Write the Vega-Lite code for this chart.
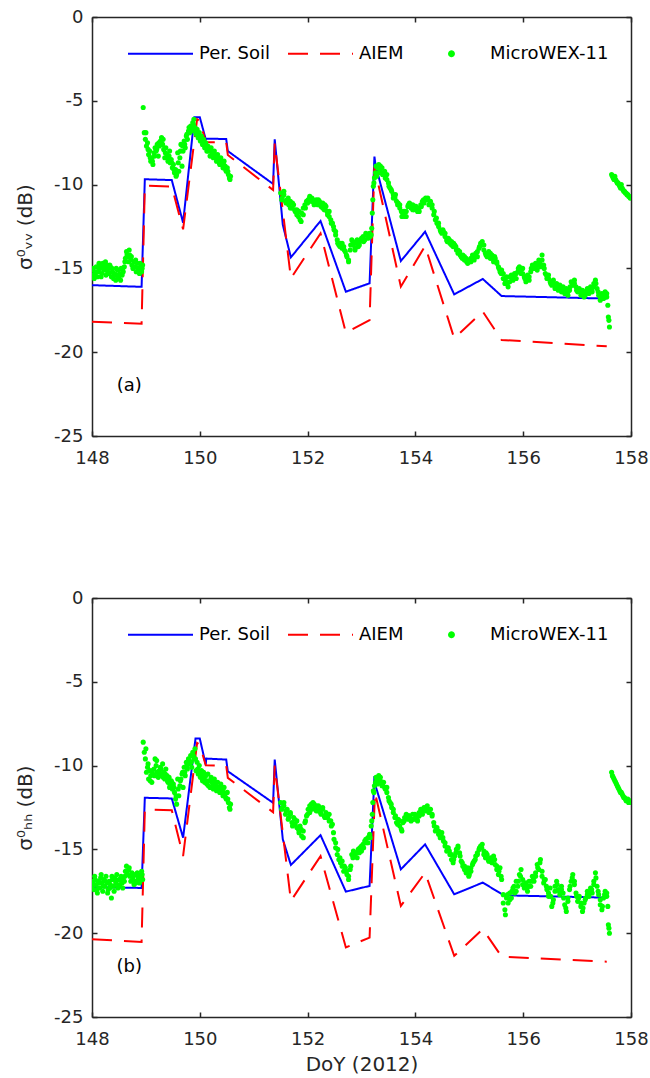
{
"$schema": "https://vega.github.io/schema/vega-lite/v6.json",
"background": "white",
"padding": {"left": 15, "top": 8, "right": 0, "bottom": 0},
"bounds": "flush",
"spacing": 162,
"config": {
  "view": {"stroke": null},
  "font": "DejaVu Sans",
  "axis": {"labelFont": "DejaVu Sans", "labelFontSize": 18, "labelColor": "#262626", "domainColor": "#262626", "domainWidth": 1.5, "tickColor": "#262626", "tickWidth": 1.5, "tickSize": -5, "grid": false, "titleFont": "DejaVu Sans", "titleFontWeight": "normal", "titleColor": "#262626", "titleFontSize": 20}
},
"datasets": {
"model": [
{"s":"Per. Soil","p":"VV","d":148.00,"v":-16.00},
{"s":"Per. Soil","p":"VV","d":148.92,"v":-16.10},
{"s":"Per. Soil","p":"VV","d":148.98,"v":-9.68},
{"s":"Per. Soil","p":"VV","d":149.48,"v":-9.73},
{"s":"Per. Soil","p":"VV","d":149.69,"v":-12.27},
{"s":"Per. Soil","p":"VV","d":149.90,"v":-5.98},
{"s":"Per. Soil","p":"VV","d":150.00,"v":-5.98},
{"s":"Per. Soil","p":"VV","d":150.11,"v":-7.30},
{"s":"Per. Soil","p":"VV","d":150.12,"v":-7.26},
{"s":"Per. Soil","p":"VV","d":150.49,"v":-7.28},
{"s":"Per. Soil","p":"VV","d":150.52,"v":-8.00},
{"s":"Per. Soil","p":"VV","d":151.36,"v":-9.96},
{"s":"Per. Soil","p":"VV","d":151.39,"v":-7.30},
{"s":"Per. Soil","p":"VV","d":151.54,"v":-12.40},
{"s":"Per. Soil","p":"VV","d":151.69,"v":-14.34},
{"s":"Per. Soil","p":"VV","d":152.24,"v":-12.17},
{"s":"Per. Soil","p":"VV","d":152.71,"v":-16.39},
{"s":"Per. Soil","p":"VV","d":153.15,"v":-15.89},
{"s":"Per. Soil","p":"VV","d":153.24,"v":-8.33},
{"s":"Per. Soil","p":"VV","d":153.26,"v":-8.83},
{"s":"Per. Soil","p":"VV","d":153.73,"v":-14.56},
{"s":"Per. Soil","p":"VV","d":154.18,"v":-12.81},
{"s":"Per. Soil","p":"VV","d":154.72,"v":-16.55},
{"s":"Per. Soil","p":"VV","d":155.25,"v":-15.63},
{"s":"Per. Soil","p":"VV","d":155.60,"v":-16.65},
{"s":"Per. Soil","p":"VV","d":157.55,"v":-16.80},
{"s":"AIEM","p":"VV","d":148.00,"v":-18.18},
{"s":"AIEM","p":"VV","d":148.92,"v":-18.30},
{"s":"AIEM","p":"VV","d":148.98,"v":-10.06},
{"s":"AIEM","p":"VV","d":149.48,"v":-10.12},
{"s":"AIEM","p":"VV","d":149.69,"v":-12.67},
{"s":"AIEM","p":"VV","d":149.95,"v":-6.10},
{"s":"AIEM","p":"VV","d":150.00,"v":-6.20},
{"s":"AIEM","p":"VV","d":150.11,"v":-7.44},
{"s":"AIEM","p":"VV","d":150.12,"v":-7.47},
{"s":"AIEM","p":"VV","d":150.49,"v":-7.47},
{"s":"AIEM","p":"VV","d":150.52,"v":-8.23},
{"s":"AIEM","p":"VV","d":151.36,"v":-10.32},
{"s":"AIEM","p":"VV","d":151.39,"v":-7.54},
{"s":"AIEM","p":"VV","d":151.69,"v":-15.59},
{"s":"AIEM","p":"VV","d":152.24,"v":-12.91},
{"s":"AIEM","p":"VV","d":152.71,"v":-18.84},
{"s":"AIEM","p":"VV","d":153.15,"v":-18.08},
{"s":"AIEM","p":"VV","d":153.24,"v":-8.93},
{"s":"AIEM","p":"VV","d":153.73,"v":-16.09},
{"s":"AIEM","p":"VV","d":154.18,"v":-13.66},
{"s":"AIEM","p":"VV","d":154.72,"v":-19.17},
{"s":"AIEM","p":"VV","d":155.25,"v":-17.58},
{"s":"AIEM","p":"VV","d":155.60,"v":-19.27},
{"s":"AIEM","p":"VV","d":157.55,"v":-19.65},
{"s":"Per. Soil","p":"HH","d":148.00,"v":-17.25},
{"s":"Per. Soil","p":"HH","d":148.92,"v":-17.30},
{"s":"Per. Soil","p":"HH","d":148.98,"v":-11.92},
{"s":"Per. Soil","p":"HH","d":149.48,"v":-11.96},
{"s":"Per. Soil","p":"HH","d":149.69,"v":-14.30},
{"s":"Per. Soil","p":"HH","d":149.92,"v":-8.39},
{"s":"Per. Soil","p":"HH","d":150.00,"v":-8.39},
{"s":"Per. Soil","p":"HH","d":150.11,"v":-9.94},
{"s":"Per. Soil","p":"HH","d":150.12,"v":-9.58},
{"s":"Per. Soil","p":"HH","d":150.49,"v":-9.64},
{"s":"Per. Soil","p":"HH","d":150.52,"v":-10.34},
{"s":"Per. Soil","p":"HH","d":151.36,"v":-12.22},
{"s":"Per. Soil","p":"HH","d":151.39,"v":-9.64},
{"s":"Per. Soil","p":"HH","d":151.54,"v":-14.40},
{"s":"Per. Soil","p":"HH","d":151.69,"v":-15.93},
{"s":"Per. Soil","p":"HH","d":152.24,"v":-14.15},
{"s":"Per. Soil","p":"HH","d":152.71,"v":-17.52},
{"s":"Per. Soil","p":"HH","d":153.15,"v":-17.18},
{"s":"Per. Soil","p":"HH","d":153.24,"v":-10.63},
{"s":"Per. Soil","p":"HH","d":153.26,"v":-11.20},
{"s":"Per. Soil","p":"HH","d":153.73,"v":-16.19},
{"s":"Per. Soil","p":"HH","d":154.18,"v":-14.70},
{"s":"Per. Soil","p":"HH","d":154.72,"v":-17.68},
{"s":"Per. Soil","p":"HH","d":155.25,"v":-16.98},
{"s":"Per. Soil","p":"HH","d":155.64,"v":-17.74},
{"s":"Per. Soil","p":"HH","d":157.55,"v":-17.88},
{"s":"AIEM","p":"HH","d":148.00,"v":-20.36},
{"s":"AIEM","p":"HH","d":148.92,"v":-20.52},
{"s":"AIEM","p":"HH","d":148.98,"v":-12.62},
{"s":"AIEM","p":"HH","d":149.48,"v":-12.66},
{"s":"AIEM","p":"HH","d":149.69,"v":-15.40},
{"s":"AIEM","p":"HH","d":149.95,"v":-8.65},
{"s":"AIEM","p":"HH","d":150.00,"v":-8.75},
{"s":"AIEM","p":"HH","d":150.11,"v":-9.98},
{"s":"AIEM","p":"HH","d":150.49,"v":-10.00},
{"s":"AIEM","p":"HH","d":150.52,"v":-10.73},
{"s":"AIEM","p":"HH","d":151.36,"v":-12.78},
{"s":"AIEM","p":"HH","d":151.39,"v":-10.00},
{"s":"AIEM","p":"HH","d":151.69,"v":-18.07},
{"s":"AIEM","p":"HH","d":152.24,"v":-15.40},
{"s":"AIEM","p":"HH","d":152.71,"v":-20.85},
{"s":"AIEM","p":"HH","d":153.15,"v":-20.26},
{"s":"AIEM","p":"HH","d":153.25,"v":-11.60},
{"s":"AIEM","p":"HH","d":153.73,"v":-18.37},
{"s":"AIEM","p":"HH","d":154.18,"v":-16.39},
{"s":"AIEM","p":"HH","d":154.72,"v":-21.35},
{"s":"AIEM","p":"HH","d":155.25,"v":-19.76},
{"s":"AIEM","p":"HH","d":155.60,"v":-21.40},
{"s":"AIEM","p":"HH","d":157.55,"v":-21.70}
],
"obs": [
{"d":148.00,"vv":-15.4,"hh":-17.2},{"d":148.02,"vv":-15.1,"hh":-16.9},{"d":148.04,"vv":-15.6,"hh":-17.4},{"d":148.06,"vv":-15.3,"hh":-16.8},{"d":148.08,"vv":-14.9,"hh":-17.1},{"d":148.10,"vv":-15.5,"hh":-17.6},{"d":148.12,"vv":-15.2,"hh":-16.9},{"d":148.14,"vv":-15.0,"hh":-17.3},{"d":148.16,"vv":-14.8,"hh":-16.7},{"d":148.18,"vv":-15.3,"hh":-17.0},
{"d":148.20,"vv":-14.7,"hh":-17.5},{"d":148.22,"vv":-15.1,"hh":-16.8},{"d":148.24,"vv":-14.9,"hh":-17.2},{"d":148.26,"vv":-15.4,"hh":-16.6},{"d":148.28,"vv":-14.8,"hh":-17.0},{"d":148.30,"vv":-15.0,"hh":-17.4},{"d":148.32,"vv":-15.3,"hh":-16.9},{"d":148.34,"vv":-14.9,"hh":-17.1},{"d":148.36,"vv":-15.5,"hh":-17.9},{"d":148.38,"vv":-15.2,"hh":-16.8},
{"d":148.40,"vv":-15.6,"hh":-17.2},{"d":148.42,"vv":-15.3,"hh":-16.7},{"d":148.44,"vv":-15.7,"hh":-17.0},{"d":148.46,"vv":-15.4,"hh":-16.5},{"d":148.48,"vv":-15.1,"hh":-17.3},{"d":148.50,"vv":-15.6,"hh":-16.8},{"d":148.52,"vv":-15.3,"hh":-17.1},{"d":148.54,"vv":-15.0,"hh":-16.6},{"d":148.56,"vv":-15.4,"hh":-17.0},{"d":148.58,"vv":-15.2,"hh":-16.7},
{"d":148.60,"vv":-14.9,"hh":-16.9},{"d":148.62,"vv":-14.4,"hh":-16.3},{"d":148.64,"vv":-14.0,"hh":-16.0},{"d":148.66,"vv":-14.3,"hh":-16.5},{"d":148.68,"vv":-14.6,"hh":-16.2},{"d":148.70,"vv":-14.2,"hh":-16.6},{"d":148.72,"vv":-14.5,"hh":-16.9},{"d":148.74,"vv":-14.8,"hh":-16.4},{"d":148.76,"vv":-15.0,"hh":-16.8},{"d":148.78,"vv":-14.6,"hh":-17.1},
{"d":148.80,"vv":-14.9,"hh":-16.5},{"d":148.82,"vv":-15.2,"hh":-16.9},{"d":148.84,"vv":-14.7,"hh":-16.4},{"d":148.86,"vv":-15.1,"hh":-16.7},{"d":148.88,"vv":-15.3,"hh":-17.0},{"d":148.90,"vv":-14.9,"hh":-16.6},{"d":148.92,"vv":-15.2,"hh":-16.3},{"d":148.94,"vv":-14.8,"hh":-16.8},
{"d":148.01,"vv":-15.0,"hh":-17.0},{"d":148.05,"vv":-15.4,"hh":-16.6},{"d":148.09,"vv":-15.2,"hh":-17.4},{"d":148.13,"vv":-14.7,"hh":-17.0},{"d":148.17,"vv":-15.5,"hh":-16.5},{"d":148.21,"vv":-15.0,"hh":-17.2},{"d":148.25,"vv":-14.6,"hh":-16.9},{"d":148.29,"vv":-15.2,"hh":-17.6},{"d":148.33,"vv":-14.8,"hh":-17.3},{"d":148.37,"vv":-15.0,"hh":-16.6},
{"d":148.41,"vv":-15.4,"hh":-17.5},{"d":148.45,"vv":-15.0,"hh":-16.9},{"d":148.49,"vv":-15.5,"hh":-17.2},{"d":148.53,"vv":-15.7,"hh":-16.8},{"d":148.57,"vv":-15.0,"hh":-17.3},{"d":148.61,"vv":-14.6,"hh":-16.6},{"d":148.65,"vv":-14.2,"hh":-16.4},{"d":148.69,"vv":-13.9,"hh":-16.1},{"d":148.73,"vv":-14.3,"hh":-16.6},{"d":148.77,"vv":-14.9,"hh":-16.6},
{"d":148.81,"vv":-14.5,"hh":-17.0},{"d":148.85,"vv":-15.0,"hh":-16.5},{"d":148.89,"vv":-14.7,"hh":-16.9},{"d":148.93,"vv":-15.0,"hh":-16.5},
{"d":148.95,"vv":-5.4,"hh":-8.6},{"d":148.97,"vv":-6.9,"hh":-9.2},{"d":148.99,"vv":-7.3,"hh":-9.6},{"d":149.01,"vv":-7.7,"hh":-10.4},{"d":149.03,"vv":-7.5,"hh":-10.1},{"d":149.05,"vv":-8.2,"hh":-10.8},{"d":149.07,"vv":-8.0,"hh":-10.3},{"d":149.09,"vv":-8.6,"hh":-10.6},{"d":149.11,"vv":-8.4,"hh":-11.0},{"d":149.13,"vv":-8.8,"hh":-10.5},
{"d":149.15,"vv":-8.1,"hh":-10.2},{"d":149.17,"vv":-7.8,"hh":-9.6},{"d":149.19,"vv":-8.0,"hh":-10.0},{"d":149.21,"vv":-7.6,"hh":-10.4},{"d":149.23,"vv":-8.3,"hh":-10.7},{"d":149.25,"vv":-7.7,"hh":-10.3},{"d":149.27,"vv":-7.4,"hh":-10.1},{"d":149.29,"vv":-7.2,"hh":-10.5},{"d":149.31,"vv":-7.6,"hh":-9.9},{"d":149.33,"vv":-7.9,"hh":-10.4},
{"d":149.35,"vv":-8.4,"hh":-10.8},{"d":149.37,"vv":-7.8,"hh":-10.2},{"d":149.39,"vv":-8.2,"hh":-10.6},{"d":149.41,"vv":-8.6,"hh":-11.0},{"d":149.43,"vv":-8.3,"hh":-10.7},{"d":149.45,"vv":-8.7,"hh":-11.2},{"d":149.47,"vv":-8.5,"hh":-10.9},{"d":149.49,"vv":-9.0,"hh":-11.4},{"d":149.51,"vv":-8.8,"hh":-11.1},{"d":149.53,"vv":-9.3,"hh":-11.6},
{"d":149.55,"vv":-9.1,"hh":-12.0},{"d":149.57,"vv":-9.4,"hh":-12.3},{"d":149.59,"vv":-8.1,"hh":-10.8},{"d":149.61,"vv":-9.2,"hh":-11.8},{"d":149.63,"vv":-8.4,"hh":-11.2},{"d":149.65,"vv":-7.6,"hh":-10.8},{"d":149.67,"vv":-8.9,"hh":-10.5},{"d":149.69,"vv":-8.0,"hh":-11.3},{"d":149.71,"vv":-7.4,"hh":-10.1},{"d":149.73,"vv":-7.8,"hh":-10.6},
{"d":149.75,"vv":-7.1,"hh":-9.8},{"d":149.77,"vv":-7.3,"hh":-10.2},{"d":149.79,"vv":-6.8,"hh":-9.6},{"d":149.81,"vv":-6.9,"hh":-9.9},{"d":149.83,"vv":-6.5,"hh":-9.4},{"d":149.85,"vv":-6.8,"hh":-10.1},{"d":149.87,"vv":-6.3,"hh":-9.2},{"d":149.89,"vv":-6.1,"hh":-9.6},{"d":149.91,"vv":-6.6,"hh":-9.0},{"d":149.93,"vv":-7.0,"hh":-10.3},
{"d":149.95,"vv":-6.7,"hh":-9.8},{"d":149.97,"vv":-7.2,"hh":-10.5},{"d":149.99,"vv":-6.9,"hh":-10.0},{"d":150.01,"vv":-7.4,"hh":-10.7},{"d":150.03,"vv":-7.1,"hh":-10.3},{"d":150.05,"vv":-7.6,"hh":-10.9},{"d":150.07,"vv":-7.3,"hh":-10.4},{"d":150.09,"vv":-7.8,"hh":-11.0},{"d":150.11,"vv":-7.5,"hh":-10.6},{"d":150.13,"vv":-8.0,"hh":-11.1},
{"d":150.15,"vv":-7.7,"hh":-10.5},{"d":150.17,"vv":-7.9,"hh":-10.9},{"d":150.19,"vv":-8.3,"hh":-11.3},{"d":150.21,"vv":-7.8,"hh":-10.7},{"d":150.23,"vv":-8.1,"hh":-11.0},{"d":150.25,"vv":-8.4,"hh":-11.4},{"d":150.27,"vv":-8.0,"hh":-10.8},{"d":150.29,"vv":-8.3,"hh":-11.2},{"d":150.31,"vv":-8.6,"hh":-11.5},{"d":150.33,"vv":-8.2,"hh":-11.0},
{"d":150.35,"vv":-8.5,"hh":-11.3},{"d":150.37,"vv":-8.8,"hh":-11.6},{"d":150.39,"vv":-8.4,"hh":-11.1},{"d":150.41,"vv":-8.7,"hh":-11.5},{"d":150.43,"vv":-9.0,"hh":-11.8},{"d":150.45,"vv":-8.6,"hh":-11.3},{"d":150.47,"vv":-8.9,"hh":-11.7},{"d":150.49,"vv":-9.2,"hh":-12.0},{"d":150.51,"vv":-9.0,"hh":-11.6},{"d":150.53,"vv":-9.4,"hh":-12.2},
{"d":150.55,"vv":-9.6,"hh":-12.5},{"d":150.57,"vv":-9.5,"hh":-12.3},
{"d":149.00,"vv":-6.9,"hh":-9.0},{"d":149.04,"vv":-7.9,"hh":-9.9},{"d":149.08,"vv":-8.4,"hh":-10.9},{"d":149.12,"vv":-8.6,"hh":-10.3},{"d":149.16,"vv":-8.3,"hh":-10.6},{"d":149.20,"vv":-7.9,"hh":-9.7},{"d":149.24,"vv":-7.5,"hh":-10.6},{"d":149.28,"vv":-7.5,"hh":-10.2},{"d":149.32,"vv":-7.3,"hh":-10.7},{"d":149.36,"vv":-8.1,"hh":-10.5},
{"d":149.40,"vv":-8.4,"hh":-10.9},{"d":149.44,"vv":-8.0,"hh":-11.3},{"d":149.48,"vv":-8.7,"hh":-11.0},{"d":149.52,"vv":-9.1,"hh":-11.3},{"d":149.56,"vv":-9.5,"hh":-11.8},{"d":149.60,"vv":-8.7,"hh":-11.4},{"d":149.64,"vv":-8.0,"hh":-10.9},{"d":149.68,"vv":-7.7,"hh":-10.4},{"d":149.72,"vv":-7.6,"hh":-10.4},{"d":149.76,"vv":-7.0,"hh":-10.0},
{"d":149.80,"vv":-6.6,"hh":-9.7},{"d":149.84,"vv":-6.7,"hh":-9.8},{"d":149.88,"vv":-6.4,"hh":-9.4},{"d":149.92,"vv":-6.8,"hh":-9.6},{"d":149.96,"vv":-7.0,"hh":-10.2},{"d":150.00,"vv":-7.2,"hh":-10.4},{"d":150.04,"vv":-7.3,"hh":-10.6},{"d":150.08,"vv":-7.6,"hh":-10.8},{"d":150.12,"vv":-7.7,"hh":-10.9},{"d":150.16,"vv":-8.0,"hh":-11.2},
{"d":150.20,"vv":-8.0,"hh":-10.9},{"d":150.24,"vv":-8.3,"hh":-11.2},{"d":150.28,"vv":-8.2,"hh":-11.0},{"d":150.32,"vv":-8.4,"hh":-11.3},{"d":150.36,"vv":-8.7,"hh":-11.4},{"d":150.40,"vv":-8.6,"hh":-11.3},{"d":150.44,"vv":-8.8,"hh":-11.6},{"d":150.48,"vv":-9.1,"hh":-11.9},{"d":150.52,"vv":-9.2,"hh":-12.0},{"d":150.56,"vv":-9.7,"hh":-12.6},
{"d":151.50,"vv":-10.5,"hh":-12.2},{"d":151.53,"vv":-10.8,"hh":-12.5},{"d":151.56,"vv":-10.6,"hh":-12.4},{"d":151.59,"vv":-11.0,"hh":-12.9},{"d":151.62,"vv":-10.9,"hh":-12.6},{"d":151.65,"vv":-11.2,"hh":-13.1},{"d":151.68,"vv":-11.0,"hh":-12.9},{"d":151.71,"vv":-11.4,"hh":-13.4},{"d":151.74,"vv":-11.2,"hh":-13.1},{"d":151.77,"vv":-11.6,"hh":-13.5},
{"d":151.80,"vv":-11.5,"hh":-13.3},{"d":151.83,"vv":-11.9,"hh":-13.8},{"d":151.86,"vv":-12.1,"hh":-13.6},{"d":151.89,"vv":-11.7,"hh":-14.2},{"d":151.92,"vv":-11.4,"hh":-13.9},{"d":151.95,"vv":-11.2,"hh":-13.4},{"d":151.98,"vv":-11.0,"hh":-13.0},{"d":152.01,"vv":-10.9,"hh":-12.6},{"d":152.04,"vv":-10.7,"hh":-12.8},{"d":152.07,"vv":-11.0,"hh":-12.3},
{"d":152.10,"vv":-10.9,"hh":-12.2},{"d":152.13,"vv":-11.1,"hh":-12.5},{"d":152.16,"vv":-10.9,"hh":-12.4},{"d":152.19,"vv":-11.2,"hh":-12.7},{"d":152.22,"vv":-11.0,"hh":-12.5},{"d":152.25,"vv":-11.3,"hh":-12.9},{"d":152.28,"vv":-11.1,"hh":-12.6},{"d":152.31,"vv":-11.5,"hh":-13.0},{"d":152.34,"vv":-11.3,"hh":-12.8},{"d":152.37,"vv":-11.8,"hh":-13.1},
{"d":152.40,"vv":-11.6,"hh":-12.9},{"d":152.43,"vv":-12.1,"hh":-13.3},{"d":152.46,"vv":-12.3,"hh":-13.5},{"d":152.49,"vv":-12.7,"hh":-14.4},{"d":152.52,"vv":-13.0,"hh":-14.9},{"d":152.55,"vv":-13.3,"hh":-15.3},{"d":152.58,"vv":-13.6,"hh":-15.6},{"d":152.61,"vv":-13.5,"hh":-15.8},{"d":152.64,"vv":-13.8,"hh":-16.0},{"d":152.67,"vv":-13.7,"hh":-16.3},
{"d":152.70,"vv":-14.0,"hh":-16.1},{"d":152.73,"vv":-14.3,"hh":-16.5},{"d":152.76,"vv":-14.5,"hh":-16.8},{"d":152.79,"vv":-13.9,"hh":-16.2},{"d":152.82,"vv":-13.3,"hh":-15.3},{"d":152.85,"vv":-13.6,"hh":-15.1},{"d":152.88,"vv":-13.8,"hh":-15.4},{"d":152.91,"vv":-13.5,"hh":-15.2},{"d":152.94,"vv":-13.7,"hh":-15.0},{"d":152.97,"vv":-13.4,"hh":-14.9},
{"d":153.00,"vv":-13.3,"hh":-15.1},{"d":153.03,"vv":-13.1,"hh":-14.7},{"d":153.06,"vv":-13.3,"hh":-14.5},{"d":153.09,"vv":-13.0,"hh":-14.6},{"d":153.12,"vv":-13.1,"hh":-14.3},{"d":153.15,"vv":-12.9,"hh":-14.1},{"d":153.18,"vv":-13.0,"hh":-13.6},{"d":153.20,"vv":-11.7,"hh":-12.9},{"d":153.21,"vv":-10.9,"hh":-12.2},{"d":153.22,"vv":-10.1,"hh":-11.5},
{"d":153.24,"vv":-9.6,"hh":-11.2},{"d":153.26,"vv":-9.3,"hh":-11.0},{"d":153.28,"vv":-9.5,"hh":-10.8},{"d":153.30,"vv":-9.0,"hh":-11.1},{"d":153.32,"vv":-8.8,"hh":-10.6},{"d":153.35,"vv":-9.2,"hh":-10.9},{"d":153.38,"vv":-9.0,"hh":-11.2},{"d":153.41,"vv":-9.4,"hh":-11.0},{"d":153.44,"vv":-9.6,"hh":-11.4},{"d":153.47,"vv":-9.4,"hh":-11.6},
{"d":153.50,"vv":-9.9,"hh":-11.9},{"d":153.53,"vv":-10.2,"hh":-12.2},{"d":153.56,"vv":-10.4,"hh":-12.5},{"d":153.59,"vv":-10.6,"hh":-12.8},{"d":153.62,"vv":-10.8,"hh":-13.1},{"d":153.65,"vv":-11.0,"hh":-13.4},{"d":153.68,"vv":-11.1,"hh":-13.2},{"d":153.71,"vv":-11.4,"hh":-13.6},{"d":153.74,"vv":-11.6,"hh":-13.8},{"d":153.77,"vv":-11.8,"hh":-13.4},
{"d":153.80,"vv":-11.9,"hh":-13.1},{"d":153.83,"vv":-11.6,"hh":-12.9},{"d":153.86,"vv":-11.3,"hh":-13.2},{"d":153.89,"vv":-11.1,"hh":-13.0},{"d":153.92,"vv":-11.4,"hh":-13.3},{"d":153.95,"vv":-11.2,"hh":-12.9},{"d":153.98,"vv":-11.5,"hh":-13.2},{"d":154.01,"vv":-11.3,"hh":-13.0},{"d":154.04,"vv":-11.6,"hh":-13.3},{"d":154.07,"vv":-11.4,"hh":-12.8},
{"d":154.10,"vv":-11.2,"hh":-12.6},{"d":154.13,"vv":-11.0,"hh":-12.9},{"d":154.16,"vv":-11.1,"hh":-12.5},{"d":154.19,"vv":-10.8,"hh":-12.7},{"d":154.22,"vv":-10.9,"hh":-12.4},{"d":154.25,"vv":-11.2,"hh":-12.8},{"d":154.28,"vv":-11.0,"hh":-12.6},{"d":154.31,"vv":-11.4,"hh":-13.0},{"d":154.34,"vv":-11.8,"hh":-13.4},{"d":154.37,"vv":-12.1,"hh":-13.9},
{"d":154.40,"vv":-12.3,"hh":-13.7},{"d":154.43,"vv":-12.5,"hh":-14.1},{"d":154.46,"vv":-12.7,"hh":-14.3},{"d":154.49,"vv":-12.9,"hh":-14.0},{"d":154.52,"vv":-12.8,"hh":-14.5},{"d":154.55,"vv":-13.1,"hh":-14.8},{"d":154.58,"vv":-13.3,"hh":-15.1},{"d":154.61,"vv":-13.2,"hh":-14.9},{"d":154.64,"vv":-13.5,"hh":-15.3},{"d":154.67,"vv":-13.4,"hh":-15.6},
{"d":154.70,"vv":-13.7,"hh":-15.8},{"d":154.73,"vv":-13.6,"hh":-15.4},{"d":154.76,"vv":-13.9,"hh":-15.0},{"d":154.79,"vv":-14.1,"hh":-14.8},{"d":154.82,"vv":-14.0,"hh":-15.2},{"d":154.85,"vv":-14.3,"hh":-15.7},{"d":154.88,"vv":-14.2,"hh":-16.0},{"d":154.91,"vv":-14.5,"hh":-16.2},{"d":154.94,"vv":-14.4,"hh":-16.4},{"d":154.97,"vv":-14.7,"hh":-16.1},
{"d":155.00,"vv":-14.6,"hh":-16.5},{"d":155.03,"vv":-14.4,"hh":-16.3},{"d":155.06,"vv":-14.2,"hh":-15.9},{"d":155.09,"vv":-14.5,"hh":-15.7},{"d":155.12,"vv":-14.1,"hh":-15.4},{"d":155.15,"vv":-14.3,"hh":-15.2},{"d":155.18,"vv":-13.8,"hh":-15.0},{"d":155.21,"vv":-13.5,"hh":-14.8},{"d":155.24,"vv":-13.4,"hh":-14.7},{"d":155.27,"vv":-13.9,"hh":-15.1},
{"d":155.30,"vv":-14.1,"hh":-15.5},{"d":155.33,"vv":-14.3,"hh":-15.3},{"d":155.36,"vv":-14.0,"hh":-15.7},{"d":155.39,"vv":-14.4,"hh":-15.5},{"d":155.42,"vv":-14.2,"hh":-15.8},{"d":155.45,"vv":-14.6,"hh":-15.4},{"d":155.48,"vv":-14.4,"hh":-15.9},{"d":155.51,"vv":-14.7,"hh":-16.2},{"d":155.54,"vv":-14.9,"hh":-16.5},{"d":155.57,"vv":-15.2,"hh":-16.1},
{"d":155.60,"vv":-15.1,"hh":-16.8},{"d":155.63,"vv":-15.6,"hh":-17.7},{"d":155.66,"vv":-15.9,"hh":-18.6},{"d":155.69,"vv":-15.5,"hh":-17.9},{"d":155.72,"vv":-16.1,"hh":-18.2},{"d":155.75,"vv":-15.8,"hh":-17.6},{"d":155.78,"vv":-15.4,"hh":-17.9},{"d":155.81,"vv":-15.7,"hh":-17.3},{"d":155.84,"vv":-15.3,"hh":-17.6},{"d":155.87,"vv":-15.6,"hh":-16.9},
{"d":155.90,"vv":-15.2,"hh":-17.2},{"d":155.93,"vv":-14.9,"hh":-16.5},{"d":155.96,"vv":-15.3,"hh":-16.2},{"d":155.99,"vv":-15.0,"hh":-16.8},{"d":156.02,"vv":-15.5,"hh":-17.3},{"d":156.05,"vv":-15.8,"hh":-17.0},{"d":156.08,"vv":-15.4,"hh":-17.5},{"d":156.11,"vv":-15.7,"hh":-16.9},{"d":156.14,"vv":-15.2,"hh":-17.2},{"d":156.17,"vv":-14.8,"hh":-16.6},
{"d":156.20,"vv":-15.0,"hh":-16.9},{"d":156.23,"vv":-14.7,"hh":-16.4},{"d":156.26,"vv":-15.1,"hh":-15.9},{"d":156.29,"vv":-14.5,"hh":-16.2},{"d":156.32,"vv":-14.9,"hh":-15.6},{"d":156.35,"vv":-14.2,"hh":-16.6},{"d":156.38,"vv":-14.8,"hh":-17.0},{"d":156.41,"vv":-15.3,"hh":-16.8},{"d":156.44,"vv":-15.6,"hh":-17.4},{"d":156.47,"vv":-15.4,"hh":-17.8},
{"d":156.50,"vv":-15.8,"hh":-17.3},{"d":156.53,"vv":-16.0,"hh":-18.4},{"d":156.56,"vv":-15.7,"hh":-18.0},{"d":156.59,"vv":-16.2,"hh":-17.2},{"d":156.62,"vv":-15.9,"hh":-16.9},{"d":156.65,"vv":-16.3,"hh":-17.4},{"d":156.68,"vv":-16.0,"hh":-17.7},{"d":156.71,"vv":-16.4,"hh":-17.2},{"d":156.74,"vv":-16.1,"hh":-17.6},{"d":156.77,"vv":-16.5,"hh":-18.3},
{"d":156.80,"vv":-16.2,"hh":-18.7},{"d":156.83,"vv":-16.6,"hh":-17.9},{"d":156.86,"vv":-16.3,"hh":-17.4},{"d":156.89,"vv":-15.8,"hh":-16.9},{"d":156.92,"vv":-16.0,"hh":-16.5},{"d":156.95,"vv":-15.7,"hh":-17.1},{"d":156.98,"vv":-16.1,"hh":-17.6},{"d":157.01,"vv":-16.4,"hh":-18.1},{"d":157.04,"vv":-16.2,"hh":-17.8},{"d":157.07,"vv":-16.6,"hh":-18.4},
{"d":157.10,"vv":-16.3,"hh":-18.7},{"d":157.13,"vv":-16.7,"hh":-18.2},{"d":157.16,"vv":-16.4,"hh":-17.9},{"d":157.19,"vv":-16.2,"hh":-17.5},{"d":157.22,"vv":-16.5,"hh":-17.8},{"d":157.25,"vv":-16.1,"hh":-17.3},{"d":157.28,"vv":-16.4,"hh":-17.6},{"d":157.31,"vv":-15.9,"hh":-16.9},{"d":157.34,"vv":-15.7,"hh":-16.4},{"d":157.37,"vv":-16.2,"hh":-17.2},
{"d":157.40,"vv":-16.6,"hh":-17.7},{"d":157.43,"vv":-16.9,"hh":-18.3},{"d":157.46,"vv":-16.5,"hh":-18.6},{"d":157.49,"vv":-16.8,"hh":-17.9},{"d":157.52,"vv":-16.4,"hh":-17.5},{"d":157.55,"vv":-16.7,"hh":-17.8},{"d":157.57,"vv":-17.2,"hh":-18.4},{"d":157.58,"vv":-17.9,"hh":-19.5},{"d":157.59,"vv":-18.1,"hh":-19.7},{"d":157.60,"vv":-18.5,"hh":-20.0},
{"d":151.52,"vv":-10.9,"hh":-12.6},{"d":151.56,"vv":-10.4,"hh":-12.2},{"d":151.60,"vv":-11.1,"hh":-12.7},{"d":151.64,"vv":-10.8,"hh":-13.2},{"d":151.68,"vv":-11.4,"hh":-12.8},{"d":151.72,"vv":-11.1,"hh":-13.6},{"d":151.76,"vv":-11.5,"hh":-13.2},{"d":151.80,"vv":-11.8,"hh":-13.7},{"d":151.84,"vv":-11.6,"hh":-14.0},{"d":151.88,"vv":-12.2,"hh":-13.8},
{"d":151.92,"vv":-11.8,"hh":-14.3},{"d":151.96,"vv":-11.4,"hh":-13.3},{"d":152.00,"vv":-11.1,"hh":-12.9},{"d":152.04,"vv":-10.8,"hh":-12.4},{"d":152.08,"vv":-10.8,"hh":-12.6},{"d":152.12,"vv":-11.2,"hh":-12.3},{"d":152.16,"vv":-11.0,"hh":-12.7},{"d":152.20,"vv":-10.9,"hh":-12.4},{"d":152.24,"vv":-11.2,"hh":-12.8},{"d":152.28,"vv":-11.4,"hh":-12.5},
{"d":152.32,"vv":-11.2,"hh":-13.1},{"d":152.36,"vv":-11.6,"hh":-12.9},{"d":152.40,"vv":-11.9,"hh":-13.3},{"d":152.44,"vv":-12.3,"hh":-13.6},{"d":152.48,"vv":-12.5,"hh":-14.0},{"d":152.52,"vv":-12.8,"hh":-14.6},{"d":152.56,"vv":-13.5,"hh":-15.0},{"d":152.60,"vv":-13.7,"hh":-15.5},{"d":152.64,"vv":-13.5,"hh":-15.7},{"d":152.68,"vv":-13.9,"hh":-16.0},
{"d":152.72,"vv":-14.2,"hh":-16.3},{"d":152.76,"vv":-14.6,"hh":-16.6},{"d":152.80,"vv":-13.6,"hh":-16.0},{"d":152.84,"vv":-13.4,"hh":-15.5},{"d":152.88,"vv":-13.9,"hh":-15.2},{"d":152.92,"vv":-13.3,"hh":-15.5},{"d":152.96,"vv":-13.6,"hh":-15.2},{"d":153.00,"vv":-13.2,"hh":-14.8},{"d":153.04,"vv":-13.4,"hh":-14.9},{"d":153.08,"vv":-12.9,"hh":-14.4},
{"d":153.12,"vv":-13.2,"hh":-14.6},{"d":153.16,"vv":-13.1,"hh":-14.3},{"d":153.19,"vv":-12.6,"hh":-13.3},{"d":153.23,"vv":-9.9,"hh":-11.6},{"d":153.27,"vv":-8.9,"hh":-10.7},{"d":153.31,"vv":-9.3,"hh":-11.0},{"d":153.35,"vv":-8.9,"hh":-10.7},{"d":153.39,"vv":-9.4,"hh":-11.1},{"d":153.43,"vv":-9.2,"hh":-11.3},{"d":153.47,"vv":-9.7,"hh":-11.3},
{"d":153.51,"vv":-10.1,"hh":-12.1},{"d":153.55,"vv":-10.3,"hh":-12.3},{"d":153.59,"vv":-10.8,"hh":-12.6},{"d":153.63,"vv":-10.6,"hh":-13.0},{"d":153.67,"vv":-11.2,"hh":-13.5},{"d":153.71,"vv":-11.2,"hh":-13.3},{"d":153.75,"vv":-11.9,"hh":-13.9},{"d":153.79,"vv":-11.6,"hh":-13.3},{"d":153.83,"vv":-11.9,"hh":-13.1},{"d":153.87,"vv":-11.2,"hh":-13.0},
{"d":153.91,"vv":-11.2,"hh":-13.2},{"d":153.95,"vv":-11.5,"hh":-13.2},{"d":153.99,"vv":-11.3,"hh":-12.9},{"d":154.03,"vv":-11.4,"hh":-13.2},{"d":154.07,"vv":-11.6,"hh":-13.0},{"d":154.11,"vv":-11.3,"hh":-12.8},{"d":154.15,"vv":-10.9,"hh":-12.7},{"d":154.19,"vv":-10.9,"hh":-12.5},{"d":154.23,"vv":-10.8,"hh":-12.7},{"d":154.27,"vv":-11.1,"hh":-12.6},
{"d":154.31,"vv":-11.2,"hh":-12.9},{"d":154.35,"vv":-11.6,"hh":-13.6},{"d":154.39,"vv":-12.0,"hh":-13.8},{"d":154.43,"vv":-12.3,"hh":-13.9},{"d":154.47,"vv":-12.8,"hh":-14.2},{"d":154.51,"vv":-12.7,"hh":-14.3},{"d":154.55,"vv":-12.9,"hh":-14.6},{"d":154.59,"vv":-13.4,"hh":-14.9},{"d":154.63,"vv":-13.3,"hh":-15.1},{"d":154.67,"vv":-13.6,"hh":-15.3},
{"d":154.71,"vv":-13.5,"hh":-15.6},{"d":154.75,"vv":-13.7,"hh":-15.2},{"d":154.79,"vv":-13.9,"hh":-14.9},{"d":154.83,"vv":-14.2,"hh":-15.4},{"d":154.87,"vv":-14.4,"hh":-15.8},{"d":154.91,"vv":-14.3,"hh":-16.0},{"d":154.95,"vv":-14.6,"hh":-16.3},{"d":154.99,"vv":-14.5,"hh":-16.6},{"d":155.03,"vv":-14.6,"hh":-16.1},{"d":155.07,"vv":-14.3,"hh":-15.8},
{"d":155.11,"vv":-14.3,"hh":-15.6},{"d":155.15,"vv":-14.0,"hh":-15.3},{"d":155.19,"vv":-13.7,"hh":-14.9},{"d":155.23,"vv":-13.6,"hh":-14.9},{"d":155.27,"vv":-13.6,"hh":-15.3},{"d":155.31,"vv":-14.2,"hh":-15.2},{"d":155.35,"vv":-14.2,"hh":-15.6},{"d":155.39,"vv":-14.1,"hh":-15.7},{"d":155.43,"vv":-14.4,"hh":-15.6},{"d":155.47,"vv":-14.3,"hh":-15.6},
{"d":155.51,"vv":-14.6,"hh":-16.0},{"d":155.55,"vv":-15.0,"hh":-16.3},{"d":155.59,"vv":-15.3,"hh":-16.6},{"d":155.63,"vv":-15.3,"hh":-18.2},{"d":155.67,"vv":-15.7,"hh":-18.9},{"d":155.71,"vv":-15.9,"hh":-17.7},{"d":155.75,"vv":-15.5,"hh":-18.0},{"d":155.79,"vv":-15.6,"hh":-17.5},{"d":155.83,"vv":-15.5,"hh":-17.2},{"d":155.87,"vv":-15.3,"hh":-17.5},
{"d":155.91,"vv":-15.0,"hh":-16.9},{"d":155.95,"vv":-15.1,"hh":-16.6},{"d":155.99,"vv":-15.3,"hh":-17.1},{"d":156.03,"vv":-15.6,"hh":-17.1},{"d":156.07,"vv":-15.6,"hh":-17.3},{"d":156.11,"vv":-15.5,"hh":-17.2},{"d":156.15,"vv":-15.0,"hh":-16.9},{"d":156.19,"vv":-14.9,"hh":-16.7},{"d":156.23,"vv":-14.9,"hh":-16.6},{"d":156.27,"vv":-14.8,"hh":-16.1},
{"d":156.31,"vv":-14.7,"hh":-15.8},{"d":156.35,"vv":-14.5,"hh":-16.3},{"d":156.39,"vv":-15.0,"hh":-16.8},{"d":156.43,"vv":-15.4,"hh":-17.2},{"d":156.47,"vv":-15.6,"hh":-17.6},{"d":156.51,"vv":-15.9,"hh":-17.8},{"d":156.55,"vv":-15.9,"hh":-18.2},{"d":156.59,"vv":-16.0,"hh":-17.5},{"d":156.63,"vv":-16.1,"hh":-17.1},{"d":156.67,"vv":-16.1,"hh":-17.5},
{"d":156.71,"vv":-16.2,"hh":-17.4},{"d":156.75,"vv":-16.3,"hh":-17.9},{"d":156.79,"vv":-16.4,"hh":-18.5},{"d":156.83,"vv":-16.4,"hh":-18.1},{"d":156.87,"vv":-16.1,"hh":-17.2},{"d":156.91,"vv":-15.9,"hh":-16.7},{"d":156.95,"vv":-15.9,"hh":-16.9},{"d":156.99,"vv":-16.3,"hh":-17.8},{"d":157.03,"vv":-16.3,"hh":-17.9},{"d":157.07,"vv":-16.4,"hh":-18.2},
{"d":157.11,"vv":-16.5,"hh":-18.5},{"d":157.15,"vv":-16.6,"hh":-18.0},{"d":157.19,"vv":-16.3,"hh":-17.7},{"d":157.23,"vv":-16.3,"hh":-17.6},{"d":157.27,"vv":-16.3,"hh":-17.4},{"d":157.31,"vv":-16.1,"hh":-17.1},{"d":157.35,"vv":-15.9,"hh":-16.7},{"d":157.39,"vv":-16.4,"hh":-17.5},{"d":157.43,"vv":-16.7,"hh":-18.0},{"d":157.47,"vv":-16.7,"hh":-18.4},
{"d":157.51,"vv":-16.6,"hh":-17.7},{"d":157.55,"vv":-16.5,"hh":-17.6},
{"d":157.64,"vv":-9.4,"hh":-10.4},{"d":157.67,"vv":-9.6,"hh":-10.7},{"d":157.70,"vv":-9.5,"hh":-10.9},{"d":157.73,"vv":-9.8,"hh":-11.1},{"d":157.76,"vv":-9.9,"hh":-11.3},{"d":157.79,"vv":-10.1,"hh":-11.5},{"d":157.82,"vv":-10.0,"hh":-11.6},{"d":157.85,"vv":-10.3,"hh":-11.8},{"d":157.88,"vv":-10.4,"hh":-11.9},{"d":157.91,"vv":-10.5,"hh":-12.1},
{"d":157.94,"vv":-10.6,"hh":-12.0},{"d":157.97,"vv":-10.7,"hh":-12.2},{"d":158.00,"vv":-10.8,"hh":-12.1},
{"d":157.655,"vv":-9.5,"hh":-10.6},{"d":157.685,"vv":-9.7,"hh":-10.8},{"d":157.715,"vv":-9.7,"hh":-11.0},{"d":157.745,"vv":-9.9,"hh":-11.2},{"d":157.775,"vv":-10.0,"hh":-11.4},{"d":157.805,"vv":-10.2,"hh":-11.6},{"d":157.835,"vv":-10.2,"hh":-11.7},{"d":157.865,"vv":-10.4,"hh":-11.9},{"d":157.895,"vv":-10.5,"hh":-12.0},{"d":157.925,"vv":-10.6,"hh":-12.1},
{"d":157.955,"vv":-10.7,"hh":-12.2},{"d":157.985,"vv":-10.8,"hh":-12.2}
]
},
"resolve": {"scale": {"color": "independent"}, "legend": {"color": "independent"}},
"vconcat": [
{
 "width": 539, "height": 419,
 "resolve": {"axis": {"x": "independent", "y": "independent"}},
 "layer": [
  {
   "data": {"name": "model"},
   "transform": [{"filter": "datum.p === 'VV'"}],
   "mark": {"type": "line", "strokeWidth": 2, "clip": true},
   "encoding": {
     "x": {"field": "d", "type": "quantitative", "scale": {"domain": [148, 158], "nice": false, "zero": false}, "axis": {"values": [148,150,152,154,156,158], "title": null, "labelPadding": 18, "format": "d", "labelFlush": false}},
     "y": {"field": "v", "type": "quantitative", "scale": {"domain": [-25, 0], "nice": false, "zero": false}, "axis": {"values": [-25,-20,-15,-10,-5,0], "title": "σ⁰ᵥᵥ (dB)", "labelPadding": 14, "titlePadding": 18, "labelExpr": "'' + datum.value"}},
     "color": {"field": "s", "type": "nominal", "scale": {"domain": ["Per. Soil", "AIEM", "MicroWEX-11"], "range": ["#0000ff", "#ff0000", "#00ff00"]},
       "legend": {"orient": "none", "legendX": 35, "legendY": 3, "direction": "horizontal", "title": null, "padding": 0,
         "labelFont": "DejaVu Sans", "labelFontSize": 18, "labelColor": "black", "labelOffset": 5, "columnPadding": 14,
         "symbolSize": 4225, "symbolType": "stroke", "symbolStrokeWidth": 2,
         "encode": {"symbols": {"update": {
           "shape": {"signal": "datum.value === 'MicroWEX-11' ? 'circle' : 'stroke'"},
           "size": {"signal": "datum.value === 'MicroWEX-11' ? 24 : 4225"},
           "strokeDash": {"signal": "datum.value === 'AIEM' ? [20, 12] : [1, 0]"},
           "fill": {"signal": "datum.value === 'MicroWEX-11' ? '#00ff00' : 'transparent'"},
           "stroke": {"signal": "datum.value === 'MicroWEX-11' ? 'transparent' : (datum.value === 'AIEM' ? '#ff0000' : '#0000ff')"},
           "strokeWidth": {"value": 2},
           "opacity": {"value": 1}
         }}}}},
     "strokeDash": {"field": "s", "type": "nominal", "scale": {"domain": ["Per. Soil", "AIEM"], "range": [[1, 0], [20, 12]]}, "legend": null}
   }
  },
  {
   "data": {"name": "obs"},
   "mark": {"type": "circle", "size": 26, "opacity": 1, "clip": true},
   "encoding": {
     "x": {"field": "d", "type": "quantitative", "axis": {"orient": "top", "labels": false, "title": null, "values": [148,150,152,154,156,158]}},
     "y": {"field": "vv", "type": "quantitative", "axis": {"orient": "right", "labels": false, "title": null, "values": [-25,-20,-15,-10,-5,0]}},
     "color": {"datum": "MicroWEX-11"}
   }
  },
  {
   "data": {"values": [{"label": "(a)"}]},
   "mark": {"type": "text", "fontSize": 18, "font": "DejaVu Sans", "color": "black"},
   "encoding": {"x": {"datum": 148.69, "type": "quantitative", "axis": null}, "y": {"datum": -22, "type": "quantitative", "axis": null}, "text": {"field": "label"}}
  }
 ]
},
{
 "width": 539, "height": 419,
 "resolve": {"axis": {"x": "independent", "y": "independent"}},
 "layer": [
  {
   "data": {"name": "model"},
   "transform": [{"filter": "datum.p === 'HH'"}],
   "mark": {"type": "line", "strokeWidth": 2, "clip": true},
   "encoding": {
     "x": {"field": "d", "type": "quantitative", "scale": {"domain": [148, 158], "nice": false, "zero": false}, "axis": {"values": [148,150,152,154,156,158], "title": "DoY (2012)", "labelPadding": 18, "titlePadding": 6, "format": "d", "labelFlush": false}},
     "y": {"field": "v", "type": "quantitative", "scale": {"domain": [-25, 0], "nice": false, "zero": false}, "axis": {"values": [-25,-20,-15,-10,-5,0], "title": "σ⁰ₕₕ (dB)", "labelPadding": 14, "titlePadding": 18, "labelExpr": "'' + datum.value"}},
     "color": {"field": "s", "type": "nominal", "scale": {"domain": ["Per. Soil", "AIEM", "MicroWEX-11"], "range": ["#0000ff", "#ff0000", "#00ff00"]},
       "legend": {"orient": "none", "legendX": 35, "legendY": 3, "direction": "horizontal", "title": null, "padding": 0,
         "labelFont": "DejaVu Sans", "labelFontSize": 18, "labelColor": "black", "labelOffset": 5, "columnPadding": 14,
         "symbolSize": 4225, "symbolType": "stroke", "symbolStrokeWidth": 2,
         "encode": {"symbols": {"update": {
           "shape": {"signal": "datum.value === 'MicroWEX-11' ? 'circle' : 'stroke'"},
           "size": {"signal": "datum.value === 'MicroWEX-11' ? 24 : 4225"},
           "strokeDash": {"signal": "datum.value === 'AIEM' ? [20, 12] : [1, 0]"},
           "fill": {"signal": "datum.value === 'MicroWEX-11' ? '#00ff00' : 'transparent'"},
           "stroke": {"signal": "datum.value === 'MicroWEX-11' ? 'transparent' : (datum.value === 'AIEM' ? '#ff0000' : '#0000ff')"},
           "strokeWidth": {"value": 2},
           "opacity": {"value": 1}
         }}}}},
     "strokeDash": {"field": "s", "type": "nominal", "scale": {"domain": ["Per. Soil", "AIEM"], "range": [[1, 0], [20, 12]]}, "legend": null}
   }
  },
  {
   "data": {"name": "obs"},
   "mark": {"type": "circle", "size": 26, "opacity": 1, "clip": true},
   "encoding": {
     "x": {"field": "d", "type": "quantitative", "axis": {"orient": "top", "labels": false, "title": null, "values": [148,150,152,154,156,158]}},
     "y": {"field": "hh", "type": "quantitative", "axis": {"orient": "right", "labels": false, "title": null, "values": [-25,-20,-15,-10,-5,0]}},
     "color": {"datum": "MicroWEX-11"}
   }
  },
  {
   "data": {"values": [{"label": "(b)"}]},
   "mark": {"type": "text", "fontSize": 18, "font": "DejaVu Sans", "color": "black"},
   "encoding": {"x": {"datum": 148.69, "type": "quantitative", "axis": null}, "y": {"datum": -22, "type": "quantitative", "axis": null}, "text": {"field": "label"}}
  }
 ]
}
]
}
